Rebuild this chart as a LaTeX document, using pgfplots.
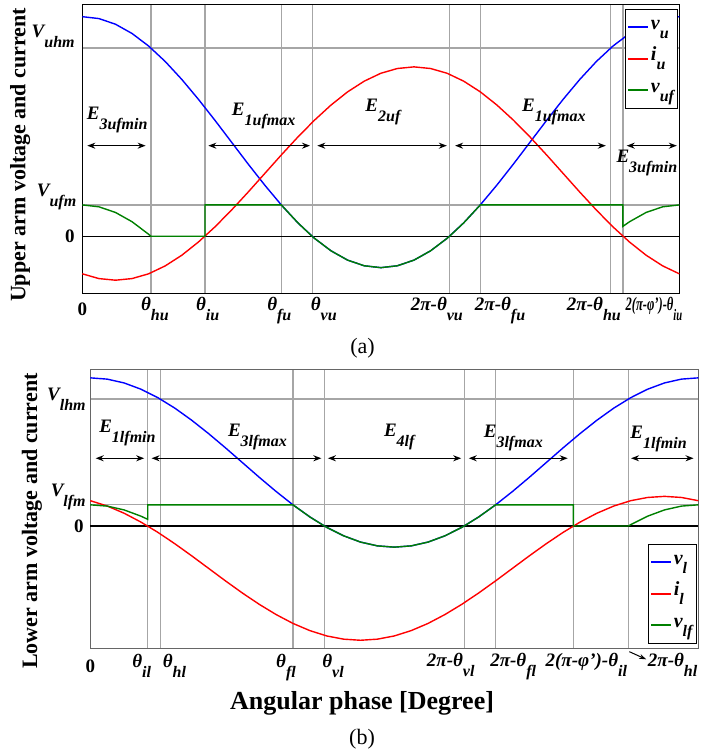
\documentclass[border=0pt]{standalone}
\usepackage{fontspec}
\setmainfont{Liberation Serif}
\usepackage{pgfplots}
\pgfplotsset{compat=1.18}
\usetikzlibrary{arrows.meta}

% bold italic label with a lowered subscript
\newcommand{\ticktxt}[2]{{\fontsize{9.5}{10}\selectfont\bfseries\itshape #1\raisebox{-5pt}{\fontsize{8}{9}\selectfont #2}}}
\newcommand{\legtxt}[2]{{\fontsize{10}{11}\selectfont\bfseries\itshape #1\raisebox{-4.5pt}{\fontsize{8}{9}\selectfont #2}}}
\newcommand{\zero}{{\fontsize{9.5}{10}\selectfont\bfseries 0}}

\tikzset{
  lab/.style={inner sep=0pt},
  dim/.style={<->, >={Stealth[length=4pt,width=3pt]}, line width=0.6pt},
}
\pgfplotsset{
  legend image code/.code={\draw[#1, line width=1pt] (0pt,0pt) -- (10pt,0pt);},
  panel/.style={
    scale only axis, clip=false,
    xmin=0, xmax=360,
    major tick length=0pt,
    xticklabels={}, yticklabels={},
    grid=major,
    major grid style={draw=black!35, line width=0.6pt},
    legend cell align=left,
    legend style={draw, fill=white,
      inner xsep=1pt, inner ysep=1.5pt, row sep=1.2pt,
      nodes={inner sep=0.8pt, text height=7.5pt, text depth=5.5pt}},
    every axis plot/.append style={line width=0.7pt},
    ylabel style={font=\fontsize{11}{12}\selectfont\bfseries, anchor=center},
  },
}

\begin{document}
\begin{tikzpicture}
\useasboundingbox (0,0) rectangle (358pt,-378pt);

% ---------------- (a) upper arm ----------------
\begin{axis}[panel,
  at={(41.15pt,-2pt)}, anchor=north west,
  width=298.5pt, height=144.5pt,
  ymin=-0.452, ymax=1.851,
  xtick={41.41,74,120,138.59,221.41,240,318.59,326},
  ytick={0.25,1.5},
  axis line style={black},
  ylabel={Upper arm voltage and current},
  ylabel style={at={(rel axis cs:-0.104,0.478)}},
  legend style={at={(rel axis cs:0.909,0.982)}, anchor=north west},
]
\draw[black, line width=0.6pt] (axis cs:0,0) -- (axis cs:360,0);

\addplot[blue] coordinates {
(0,1.75)(10,1.735)(20,1.690)(30,1.616)(40,1.516)(50,1.393)(60,1.25)(70,1.092)
(80,0.924)(90,0.75)(100,0.576)(110,0.408)(120,0.25)(130,0.107)(140,-0.016)
(150,-0.116)(160,-0.190)(170,-0.235)(180,-0.25)(190,-0.235)(200,-0.190)
(210,-0.116)(220,-0.016)(230,0.107)(240,0.25)(250,0.408)(260,0.576)(270,0.75)
(280,0.924)(290,1.092)(300,1.25)(310,1.393)(320,1.516)(330,1.616)(340,1.690)
(350,1.735)(360,1.75)};
\addlegendentry{\legtxt{v}{u}}

\addplot[red] coordinates {
(0,-0.299)(10,-0.337)(20,-0.35)(30,-0.337)(40,-0.299)(50,-0.236)(60,-0.151)
(70,-0.046)(80,0.075)(90,0.209)(100,0.352)(110,0.5)(120,0.648)(130,0.791)
(140,0.925)(150,1.046)(160,1.151)(170,1.236)(180,1.299)(190,1.337)(200,1.35)
(210,1.337)(220,1.299)(230,1.236)(240,1.151)(250,1.046)(260,0.925)(270,0.791)
(280,0.648)(290,0.5)(300,0.352)(310,0.209)(320,0.075)(330,-0.046)(340,-0.151)
(350,-0.236)(360,-0.299)};
\addlegendentry{\legtxt{i}{u}}

\addplot[green!50!black] coordinates {
(0,0.25)(10,0.235)(20,0.190)(30,0.116)(40,0.016)(41.41,0)(74,0)(74,0.25)
(120,0.25)(130,0.107)(138.59,0)(140,-0.016)(150,-0.116)(160,-0.190)(170,-0.235)
(180,-0.25)(190,-0.235)(200,-0.190)(210,-0.116)(220,-0.016)(221.41,0)(230,0.107)
(240,0.25)(326,0.25)(326,0.079)(330,0.116)(340,0.190)(350,0.235)(360,0.25)};
\addlegendentry{\legtxt{v}{uf}}

% interval arrows and names
\draw[dim] (axis cs:3,0.722) -- (axis cs:38.2,0.722);
\draw[dim] (axis cs:76,0.722) -- (axis cs:137.3,0.722);
\draw[dim] (axis cs:141.7,0.722) -- (axis cs:219.8,0.722);
\draw[dim] (axis cs:224.8,0.722) -- (axis cs:315.7,0.722);
\draw[dim] (axis cs:328.3,0.722) -- (axis cs:358.5,0.722);
\node[lab, anchor=base west] at (axis cs:2.5,0.927) {\ticktxt{E}{3ufmin}};
\node[lab, anchor=base west] at (axis cs:90,0.959) {\ticktxt{E}{1ufmax}};
\node[lab, anchor=base west] at (axis cs:170.5,0.998) {\ticktxt{E}{2uf}};
\node[lab, anchor=base west] at (axis cs:265,0.998) {\ticktxt{E}{1ufmax}};
\node[lab, anchor=base west] at (axis cs:321.9,0.584) {\ticktxt{E}{3ufmin}};

% tick labels
\node[lab, anchor=base east] at (axis cs:-4.4,1.582) {\ticktxt{V}{uhm}};
\node[lab, anchor=base east] at (axis cs:-3.4,0.316) {\ticktxt{V}{ufm}};
\node[lab, anchor=east] at (axis cs:-4.4,0) {\zero};
\node[lab, anchor=base] at (axis cs:0,-0.635) {\zero};
\node[lab, anchor=base] at (axis cs:43.8,-0.595) {\ticktxt{θ}{hu}};
\node[lab, anchor=base] at (axis cs:75.6,-0.595) {\ticktxt{θ}{iu}};
\node[lab, anchor=base] at (axis cs:118.8,-0.595) {\ticktxt{θ}{fu}};
\node[lab, anchor=base] at (axis cs:145.6,-0.595) {\ticktxt{θ}{vu}};
\node[lab, anchor=base] at (axis cs:213.8,-0.595) {\ticktxt{2π-θ}{vu}};
\node[lab, anchor=base] at (axis cs:251.9,-0.595) {\ticktxt{2π-θ}{fu}};
\node[lab, anchor=base] at (axis cs:308.5,-0.595) {\ticktxt{2π-θ}{hu}};
\node[lab, anchor=base west] at (axis cs:327.4,-0.595) {\scalebox{0.66}[1]{\ticktxt{2(π-φ')-θ}{iu}}};
\end{axis}

\node[lab, anchor=base, font=\fontsize{11}{12}\selectfont] at (181.25pt,-176.5pt) {(a)};

% ---------------- (b) lower arm ----------------
\begin{axis}[panel,
  at={(45.15pt,-184.65pt)}, anchor=north west,
  width=304pt, height=139.5pt,
  ymin=-1.445, ymax=1.851,
  xtick={34,41.41,120,138.59,221.41,240,286,318.59},
  ytick={0.25,1.5},
  axis line style={black!60},
  ylabel={Lower arm voltage and current},
  ylabel style={at={(rel axis cs:-0.096,0.456)}},
  xlabel={Angular phase [Degree]},
  xlabel style={at={(rel axis cs:0.447,-0.221)}, anchor=base,
    font=\fontsize{13}{14}\selectfont\bfseries},
  legend style={at={(rel axis cs:0.917,0.373)}, anchor=north west},
]
\draw[black, line width=0.6pt] (axis cs:0,0) -- (axis cs:360,0);

\addplot[blue] coordinates {
(0,1.75)(10,1.735)(20,1.690)(30,1.616)(40,1.516)(50,1.393)(60,1.25)(70,1.092)
(80,0.924)(90,0.75)(100,0.576)(110,0.408)(120,0.25)(130,0.107)(140,-0.016)
(150,-0.116)(160,-0.190)(170,-0.235)(180,-0.25)(190,-0.235)(200,-0.190)
(210,-0.116)(220,-0.016)(230,0.107)(240,0.25)(250,0.408)(260,0.576)(270,0.75)
(280,0.924)(290,1.092)(300,1.25)(310,1.393)(320,1.516)(330,1.616)(340,1.690)
(350,1.735)(360,1.75)};
\addlegendentry{\legtxt{v}{l}}

\addplot[red] coordinates {
(0,0.299)(10,0.236)(20,0.151)(30,0.046)(40,-0.075)(50,-0.209)(60,-0.352)
(70,-0.5)(80,-0.648)(90,-0.791)(100,-0.925)(110,-1.046)(120,-1.151)(130,-1.236)
(140,-1.299)(150,-1.337)(160,-1.35)(170,-1.337)(180,-1.299)(190,-1.236)
(200,-1.151)(210,-1.046)(220,-0.925)(230,-0.791)(240,-0.648)(250,-0.5)
(260,-0.352)(270,-0.209)(280,-0.075)(290,0.046)(300,0.151)(310,0.236)
(320,0.299)(330,0.337)(340,0.35)(350,0.337)(360,0.299)};
\addlegendentry{\legtxt{i}{l}}

\addplot[green!50!black] coordinates {
(0,0.25)(10,0.235)(20,0.190)(30,0.116)(34,0.079)(34,0.25)(120,0.25)(130,0.107)
(138.59,0)(140,-0.016)(150,-0.116)(160,-0.190)(170,-0.235)(180,-0.25)
(190,-0.235)(200,-0.190)(210,-0.116)(220,-0.016)(221.41,0)(230,0.107)(240,0.25)
(286,0.25)(286,0)(318.59,0)(320,0.016)(330,0.116)(340,0.190)(350,0.235)(360,0.25)};
\addlegendentry{\legtxt{v}{lf}}

\draw[dim] (axis cs:3.2,0.8) -- (axis cs:31.9,0.8);
\draw[dim] (axis cs:36.3,0.8) -- (axis cs:136.8,0.8);
\draw[dim] (axis cs:140.7,0.8) -- (axis cs:219.6,0.8);
\draw[dim] (axis cs:224.1,0.8) -- (axis cs:282.7,0.8);
\draw[dim] (axis cs:320.2,0.8) -- (axis cs:357.2,0.8);
\node[lab, anchor=base west] at (axis cs:5.1,1.099) {\ticktxt{E}{1lfmin}};
\node[lab, anchor=base west] at (axis cs:81.3,1.055) {\ticktxt{E}{3lfmax}};
\node[lab, anchor=base west] at (axis cs:173.7,1.055) {\ticktxt{E}{4lf}};
\node[lab, anchor=base west] at (axis cs:232.8,1.04) {\ticktxt{E}{3lfmax}};
\node[lab, anchor=base west] at (axis cs:319.6,1.037) {\ticktxt{E}{1lfmin}};

\node[lab, anchor=base east] at (axis cs:-2.5,1.488) {\ticktxt{V}{lhm}};
\node[lab, anchor=base east] at (axis cs:-2.5,0.346) {\ticktxt{V}{lfm}};
\node[lab, anchor=east] at (axis cs:-3.7,0) {\zero};
\node[lab, anchor=base] at (axis cs:0,-1.733) {\zero};
\node[lab, anchor=base] at (axis cs:30.4,-1.677) {\ticktxt{θ}{il}};
\node[lab, anchor=base] at (axis cs:49.8,-1.677) {\ticktxt{θ}{hl}};
\node[lab, anchor=base] at (axis cs:115.9,-1.677) {\ticktxt{θ}{fl}};
\node[lab, anchor=base] at (axis cs:143.7,-1.677) {\ticktxt{θ}{vl}};
\node[lab, anchor=base] at (axis cs:213.4,-1.66) {\ticktxt{2π-θ}{vl}};
\node[lab, anchor=base] at (axis cs:250.4,-1.66) {\ticktxt{2π-θ}{fl}};
\node[lab, anchor=base] at (axis cs:293.7,-1.66) {\ticktxt{2(π-φ')-θ}{il}};
\node[lab, anchor=base] at (axis cs:344.8,-1.66) {\ticktxt{2π-θ}{hl}};
\draw[->, >={Stealth[length=3.5pt,width=2.5pt]}, line width=0.5pt]
  (axis cs:319.2,-1.485) -- (axis cs:329.1,-1.575);
\end{axis}

\node[lab, anchor=base, font=\fontsize{11}{12}\selectfont] at (181pt,-372pt) {(b)};
\end{tikzpicture}
\end{document}
